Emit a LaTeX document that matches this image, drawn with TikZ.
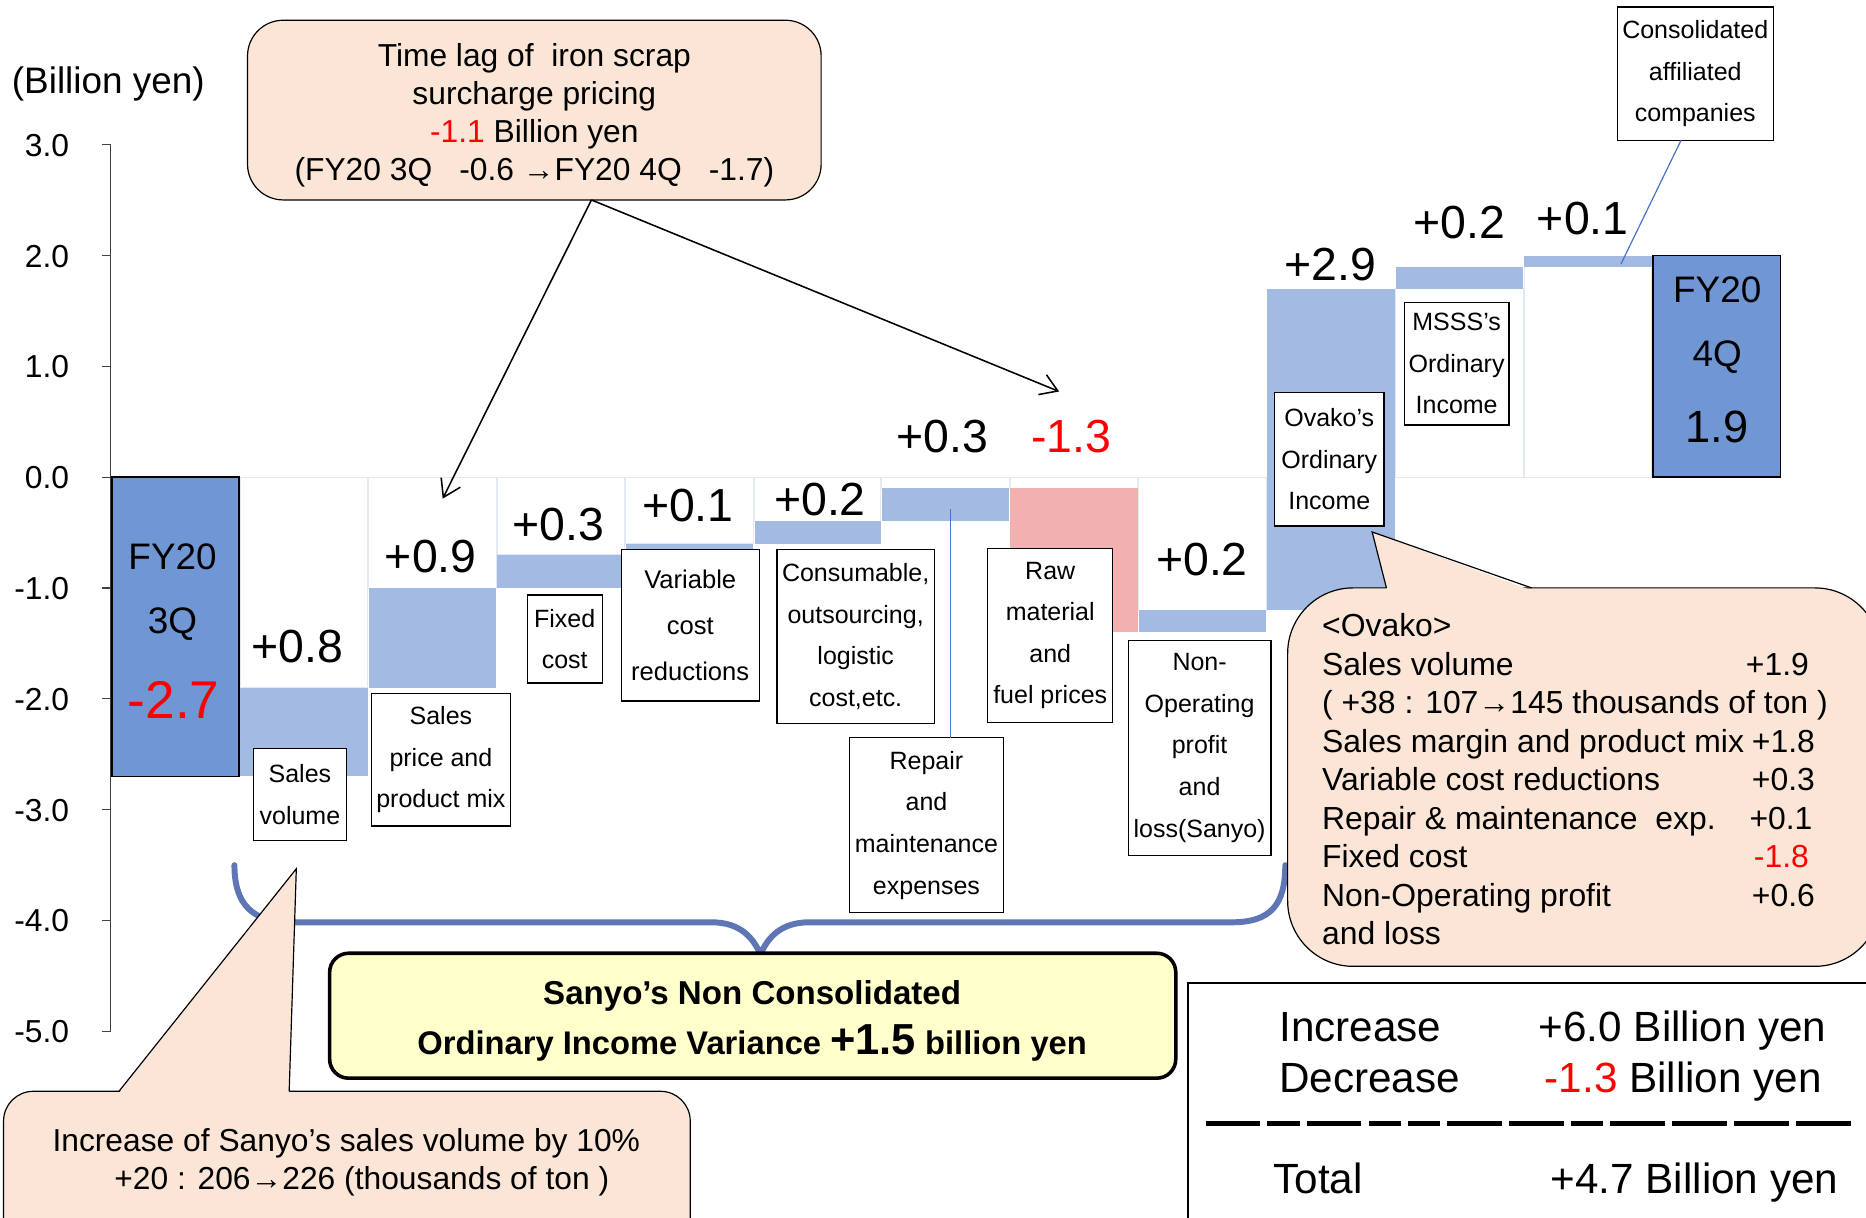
\documentclass[tikz,border=0pt]{standalone}
\usepackage{fontspec}
\setmainfont{Liberation Sans}
\usetikzlibrary{arrows.meta}
\definecolor{darkbar}{RGB}{112,150,211}
\definecolor{lightbar}{RGB}{163,187,226}
\definecolor{pinkbar}{RGB}{242,176,176}
\definecolor{peach}{RGB}{251,229,214}
\definecolor{paleyellow}{RGB}{255,255,204}
\definecolor{bracecol}{RGB}{94,117,182}
\definecolor{linkblue}{RGB}{68,114,196}
\definecolor{gridgray}{RGB}{217,217,217}
\definecolor{faintcol}{RGB}{228,232,240}
\begin{document}
\begin{tikzpicture}[x=1pt,y=-1pt,
  lbox/.style={draw=black, line width=1.1pt, fill=white, align=center, inner sep=0pt, outer sep=0pt, font=\fontsize{21}{35}\selectfont},
  txt/.style={inner sep=0pt, outer sep=0pt, text depth=0pt},
  val/.style={txt, font=\fontsize{39}{40}\selectfont, text height=28pt},
  ticklab/.style={txt, font=\fontsize{26.7}{28}\selectfont, anchor=east, text height=19.2pt},
  ctext/.style={txt, font=\fontsize{26.7}{28}\selectfont, text height=19.2pt},
  otext/.style={txt, font=\fontsize{26.8}{28}\selectfont, anchor=west, text height=19.3pt},
  ovalue/.style={txt, font=\fontsize{26.8}{28}\selectfont, anchor=east, text height=19.3pt},
  btext/.style={txt, font=\fontsize{35.5}{38}\selectfont, anchor=west, text height=25.6pt},
  bartext/.style={txt, font=\fontsize{31}{33}\selectfont, text height=22.3pt},
  callout/.style={fill=peach, draw=black, line width=1pt},
  ghost/.style={draw=faintcol, line width=0.8pt},
  axisline/.style={draw=black!75, line width=1pt},
  link/.style={draw=linkblue, line width=1pt},
  pointer/.style={-{Straight Barb[length=14pt,width=18pt]}, line width=1.3pt},
]
\useasboundingbox (0,0) rectangle (1568,1023);
\clip (0,0) rectangle (1568,1023);
\fill[white] (0,0) rectangle (1568,1023);

% zero gridline
\draw[gridgray, line width=1.2pt] (93,401) -- (1496,401);

% invisible base bars (faint outline)
\draw[ghost] (202,401) rectangle (309,577.9);
\draw[ghost] (310,401) rectangle (417,494.1);
\draw[ghost] (418,401) rectangle (525,466.2);
\draw[ghost] (526,401) rectangle (633,456.9);
\draw[ghost] (634,401) rectangle (740,438.2);
\draw[ghost] (741,401) rectangle (848,410.3);
\draw[ghost] (849,401) rectangle (956,410.3);
\draw[ghost] (957,401) rectangle (1064,512.7);
\draw[ghost] (1173,401) rectangle (1280,242.7);
\draw[ghost] (1281,401) rectangle (1388,224.1);

% axis
\draw[axisline] (93,122) -- (93,867);
\foreach \v [count=\i] in {3.0,2.0,1.0,0.0,-1.0,-2.0,-3.0,-4.0,-5.0} {
  \pgfmathsetmacro{\yy}{401-93.1*(\v)}
  \draw[axisline] (86,\yy) -- (93,\yy);
  \node[ticklab] (tk\i) at (58,\yy) {\v};
}
\node[txt, font=\fontsize{31}{33}\selectfont, text height=22.3pt] (unit) at (91,67) {(Billion yen)};

% bars
\filldraw[fill=darkbar, draw=black, line width=1.3pt] (94,401) rectangle (201,652.4);
\fill[lightbar] (202,652.4) rectangle (309,577.9);
\fill[lightbar] (310,577.9) rectangle (417,494.1);
\fill[lightbar] (418,494.1) rectangle (525,466.2);
\fill[lightbar] (526,466.2) rectangle (633,456.9);
\fill[lightbar] (634,456.9) rectangle (740,438.2);
\fill[lightbar] (741,438.2) rectangle (848,410.3);
\fill[pinkbar] (849,410.3) rectangle (956,531.3);
\fill[lightbar] (957,531.3) rectangle (1064,512.7);
\fill[lightbar] (1065,512.7) rectangle (1172,242.7);
\fill[lightbar] (1173,242.7) rectangle (1280,224.1);
\fill[lightbar] (1281,224.1) rectangle (1388,214.8);
\filldraw[fill=darkbar, draw=black, line width=1.3pt] (1389,401) rectangle (1496,214.8);

% texts inside total bars
\node[bartext] (s1) at (145,467) {FY20};
\node[bartext] (s2) at (145,521) {3Q};
\node[txt, font=\fontsize{44.7}{46}\selectfont, text height=32pt, text=red] (s3) at (146,588) {-2.7};
\node[bartext] (e1) at (1443,243) {FY20};
\node[bartext] (e2) at (1443,297) {4Q};
\node[txt, font=\fontsize{38}{40}\selectfont, text height=27.3pt] (e3) at (1443,358) {1.9};

% value labels
\node[val] (v1) at (250,543) {+0.8};
\node[val] (v2) at (362,467) {+0.9};
\node[val] (v3) at (469,440) {+0.3};
\node[val] (v4) at (578,424) {+0.1};
\node[val] (v5) at (689,419) {+0.2};
\node[val] (v6) at (792,366) {+0.3};
\node[val, text=red] (v7) at (900,366) {-1.3};
\node[val] (v8) at (1010,470) {+0.2};
\node[val] (v9) at (1118,222) {+2.9};
\node[val] (v10) at (1226,186) {+0.2};
\node[val] (v11) at (1330,183) {+0.1};

% category label boxes
\node[lbox, minimum width=78, minimum height=77] (lsv) at (252,667.5) {Sales\\volume};
\node[lbox, minimum width=117, minimum height=111] (lsp) at (370.5,638.5) {Sales\\price and\\product mix};
\node[lbox, minimum width=63, minimum height=74] (lfc) at (474.5,537) {Fixed\\cost};
\node[lbox, minimum width=116, minimum height=127, font=\fontsize{21.5}{39}\selectfont] (lvc) at (580,525.5) {Variable\\cost\\reductions};
\node[lbox, minimum width=132, minimum height=146] (lcs) at (719,535) {Consumable,\\outsourcing,\\logistic\\cost,etc.};
\node[lbox, minimum width=129, minimum height=147] (lrep) at (778.5,693.5) {Repair\\and\\maintenance\\expenses};
\node[lbox, minimum width=105, minimum height=146] (lraw) at (882.5,534) {Raw\\material\\and\\fuel prices};
\node[lbox, minimum width=120, minimum height=181] (lnop) at (1008,628.5) {Non-\\Operating\\profit\\and\\loss(Sanyo)};
\node[lbox, minimum width=92, minimum height=112] (lova) at (1117,386) {Ovako's\\Ordinary\\Income};
\node[lbox, minimum width=88, minimum height=103] (lmss) at (1224,305.5) {MSSS's\\Ordinary\\Income};
\node[lbox, minimum width=131, minimum height=112] (lcon) at (1424.5,62) {Consolidated\\affiliated\\companies};

% thin connectors from labels to bars
\coordinate (repc) at (799,428);
\draw[link] (repc) -- (repc |- lrep.north);
\coordinate (conc) at (1362,222);
\draw[link] ([xshift=-12pt]lcon.south) -- (conc);

% time lag callout
\node[callout, rounded corners=30pt, minimum width=482, minimum height=151, inner sep=0pt, outer sep=0pt] (tl) at (449,92.5) {};
\node[ctext] (tl1) at (449,46) {Time lag of\ \ iron scrap};
\node[ctext] (tl2) at (449,78) {surcharge pricing};
\node[ctext] (tl3) at (449,110) {\textcolor{red}{-1.1} Billion yen};
\node[ctext] (tl4) at (449,142) {(FY20 3Q\hspace{0.85em}-0.6 →FY20 4Q\hspace{0.85em}-1.7)};
\coordinate (a1) at (372,419);
\coordinate (a2) at (890,329);
\draw[pointer] ([xshift=48pt]tl.south) -- (a1);
\draw[pointer] ([xshift=48pt]tl.south) -- (a2);

% brace
\draw[bracecol, line width=5pt, line cap=round] (197,727) .. controls (197,760) and (212,775) .. (245,775) -- (598,775) .. controls (622,775) and (633,788) .. (639,802) .. controls (645,788) and (656,775) .. (680,775) -- (1035,775) .. controls (1068,775) and (1080,760) .. (1080,727);

% Sanyo summary box
\node[draw=black, line width=3pt, fill=paleyellow, rounded corners=16pt, minimum width=711, minimum height=105, inner sep=0pt, outer sep=0pt] (sanyo) at (632.5,853.5) {};
\node[txt, font=\bfseries\fontsize{27.8}{30}\selectfont, text height=20pt] (sy1) at (632,834) {Sanyo’s Non Consolidated};
\node[inner sep=0pt, anchor=base, font=\bfseries\fontsize{27.5}{30}\selectfont] (sy2) at (632,886) {Ordinary Income Variance {\fontsize{36.5}{38}\selectfont +1.5} billion yen};

% sales volume callout (bottom left)
\draw[callout, rounded corners=25pt] (3,917) rectangle (580,1060);
\fill[peach] (99.5,919) -- (249,730) -- (243,919) -- cycle;
\draw[line width=1pt] (100,917) -- (249,730) -- (243,917);
\node[ctext] (sv1) at (291,958) {Increase of Sanyo’s sales volume by 10\%};
\node[ctext] (sv2) at (304,990) {+20 : 206→226 (thousands of ton )};

% Ovako callout
\draw[callout, rounded corners=55pt] (1082,494) rectangle (1580,812);
\fill[peach] (1165.5,496) -- (1153,447) -- (1286.5,496) -- cycle;
\draw[line width=1pt] (1165,494) -- (1153,447) -- (1287,494);
\node[otext] (o0) at (1111,525) {<Ovako>};
\node[otext] (o1) at (1111,558) {Sales volume};
\node[ovalue] (o1v) at (1520,558) {+1.9};
\node[otext] (o2) at (1111,590) {( +38 : 107→145 thousands of ton )};
\node[otext] (o3) at (1111,623) {Sales margin and product mix};
\node[ovalue] (o3v) at (1525,623) {+1.8};
\node[otext] (o4) at (1111,655) {Variable cost reductions};
\node[ovalue] (o4v) at (1525,655) {+0.3};
\node[otext] (o5) at (1111,687) {Repair \& maintenance\ \ exp.};
\node[ovalue] (o5v) at (1523,687) {+0.1};
\node[otext] (o6) at (1111,719) {Fixed cost};
\node[ovalue, text=red] (o6v) at (1520,719) {-1.8};
\node[otext] (o7) at (1111,752) {Non-Operating profit};
\node[ovalue] (o7v) at (1525,752) {+0.6};
\node[otext] (o8) at (1111,784) {and loss};

% totals box
\draw[line width=1.5pt] (998,826) rectangle (1600,1060);
\node[btext] (inc) at (1075,862) {Increase};
\node[btext] (incv) at (1293,862) {+6.0 Billion yen};
\node[btext] (dec) at (1075,905) {Decrease};
\node[btext] (decv) at (1298,905) {\textcolor{red}{-1.3} Billion yen};
\draw[line width=3.5pt, dash pattern=on 46pt off 6pt on 27pt off 6pt on 46pt off 6pt on 27pt off 6pt on 27pt off 6pt on 46pt off 6pt on 46pt off 6pt on 27pt off 6pt on 46pt off 6pt on 46pt off 6pt on 46pt off 6pt on 46pt off 6pt] (1013,944) -- (1555,944);
\node[btext] (tot) at (1070,990) {Total};
\node[btext] (totv) at (1303,990) {+4.7 Billion yen};
\end{tikzpicture}
\end{document}
